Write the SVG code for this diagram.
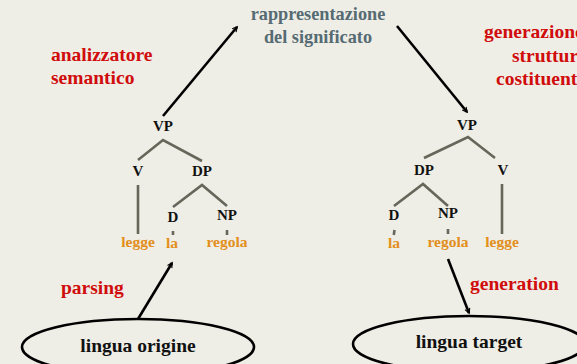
<svg xmlns="http://www.w3.org/2000/svg" width="577" height="364" viewBox="0 0 577 364">
<style>
text{font-family:'Liberation Serif','Times New Roman',serif;font-weight:bold}
.red{fill:#d00c0c;font-size:19.5px}
.slate{fill:#566b73;font-size:18.3px;text-anchor:middle}
.node{fill:#111;font-size:15px;text-anchor:middle}
.word{fill:#e28f1c;font-size:15.5px;text-anchor:middle}
.br{stroke:#66665a;stroke-width:2.6;fill:none}
.arr{stroke:#000;stroke-width:2.6;fill:none}
.ell{stroke:#000;stroke-width:2.6;fill:#efeee6}
.big{fill:#111;font-size:19.5px;text-anchor:middle}
</style>
<defs>
<marker id="ah" viewBox="0 0 10 10" refX="9" refY="5" markerWidth="5" markerHeight="5" orient="auto" markerUnits="userSpaceOnUse" overflow="visible">
<path d="M0,0 L10,5 L0,10" fill="none" stroke="#000" stroke-width="2.2"/>
</marker>
</defs>
<rect width="577" height="364" fill="#efeee6"/>

<g id="labels">
<text class="slate" x="318" y="20">rappresentazione</text>
<text class="slate" x="318" y="43">del significato</text>
<text class="red" x="51" y="61">analizzatore</text>
<text class="red" x="51" y="84">semantico</text>
<text class="red" x="484" y="38">generazione</text>
<text class="red" x="512" y="62">struttura</text>
<text class="red" x="496" y="85">costituenti</text>
<text class="red" x="61" y="294">parsing</text>
<text class="red" x="470" y="290">generation</text>
</g>

<g id="connectors">
<line class="arr" x1="163" y1="116" x2="237" y2="27" marker-end="url(#ah)"/>
<line class="arr" x1="397" y1="26" x2="467" y2="112" marker-end="url(#ah)"/>
<line class="arr" x1="138" y1="319" x2="172" y2="263" marker-end="url(#ah)"/>
<line class="arr" x1="448" y1="259" x2="469" y2="313" marker-end="url(#ah)"/>
</g>

<g id="tree-left">
<text class="node" x="163" y="131">VP</text>
<path class="br" d="M138,160 L163,140 L202,161"/>
<text class="node" x="138" y="176">V</text>
<text class="node" x="202" y="176">DP</text>
<line class="br" x1="138" y1="185" x2="138" y2="234"/>
<path class="br" d="M173,207 L202,185 L227,206"/>
<text class="node" x="173" y="222">D</text>
<text class="node" x="227" y="220">NP</text>
<line class="br" x1="173" y1="231" x2="173" y2="235"/>
<line class="br" x1="227" y1="230" x2="227" y2="235"/>
<text class="word" x="138" y="247">legge</text>
<text class="word" x="172" y="248">la</text>
<text class="word" x="227" y="247">regola</text>
</g>

<g id="tree-right">
<text class="node" x="467" y="130">VP</text>
<path class="br" d="M424,158 L468,137 L495,158"/>
<text class="node" x="424" y="175">DP</text>
<text class="node" x="503" y="175">V</text>
<line class="br" x1="502" y1="184" x2="502" y2="234"/>
<path class="br" d="M394,206 L423,184 L448,206"/>
<text class="node" x="394" y="220">D</text>
<text class="node" x="448" y="218">NP</text>
<line class="br" x1="394.5" y1="230" x2="393.8" y2="235"/>
<line class="br" x1="448" y1="229" x2="448" y2="234"/>
<text class="word" x="394" y="248">la</text>
<text class="word" x="448" y="247">regola</text>
<text class="word" x="502" y="247">legge</text>
</g>

<g id="ellipse-origine">
<ellipse class="ell" cx="138" cy="347" rx="116" ry="28"/>
<text class="big" x="138" y="352">lingua origine</text>
</g>

<g id="ellipse-target">
<ellipse class="ell" cx="469" cy="344" rx="116" ry="28"/>
<text class="big" x="469" y="348">lingua target</text>
</g>
</svg>
